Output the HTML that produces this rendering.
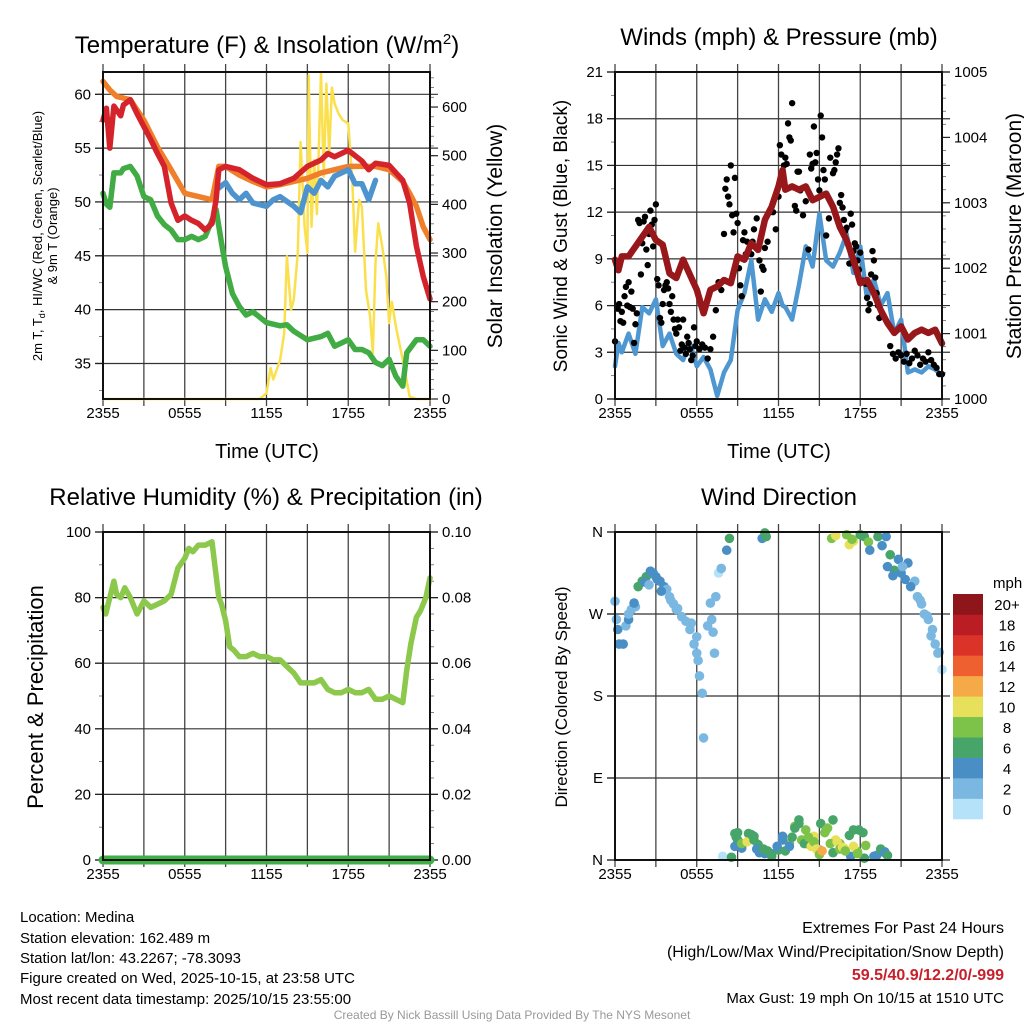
<!DOCTYPE html>
<html><head><meta charset="utf-8"><style>
html,body{margin:0;padding:0;background:#fff;}
svg{display:block;font-family:"Liberation Sans",Arial,sans-serif;}
</style></head><body>
<svg id="s" width="1024" height="1024" viewBox="0 0 1024 1024" xmlns="http://www.w3.org/2000/svg">
<rect width="1024" height="1024" fill="#fff"/>
<g id="g1"></g>
<g id="g2"></g>
<g id="g3"></g>
<g id="g4"></g>
<text x="267" y="53" font-size="24" text-anchor="middle">Temperature (F) &amp; Insolation (W/m<tspan dy="-9" font-size="15">2</tspan><tspan dy="9">)</tspan></text>
<text x="779" y="45" font-size="24" text-anchor="middle">Winds (mph) &amp; Pressure (mb)</text>
<text x="266" y="505" font-size="24" text-anchor="middle">Relative Humidity (%) &amp; Precipitation (in)</text>
<text x="779" y="505" font-size="24" text-anchor="middle">Wind Direction</text>
<text x="267" y="458" font-size="20" text-anchor="middle">Time (UTC)</text>
<text x="779" y="458" font-size="20" text-anchor="middle">Time (UTC)</text>
<text transform="translate(42,236) rotate(-90)" font-size="13" text-anchor="middle">2m T, T<tspan dy="3" font-size="9">d</tspan><tspan dy="-3">, HI/WC (Red, Green, Scarlet/Blue)</tspan></text>
<text transform="translate(57,236) rotate(-90)" font-size="13" text-anchor="middle">&amp; 9m T (Orange)</text>
<text transform="translate(502,236) rotate(-90)" font-size="21" text-anchor="middle">Solar Insolation (Yellow)</text>
<text transform="translate(567,236) rotate(-90)" font-size="19" text-anchor="middle">Sonic Wind &amp; Gust (Blue, Black)</text>
<text transform="translate(1021,236) rotate(-90)" font-size="21" text-anchor="middle">Station Pressure (Maroon)</text>
<text transform="translate(43,697) rotate(-90)" font-size="22" text-anchor="middle">Percent &amp; Precipitation</text>
<text transform="translate(567,697) rotate(-90)" font-size="17" text-anchor="middle">Direction (Colored By Speed)</text>
<g font-size="15">
<text x="20" y="922">Location: Medina</text>
<text x="20" y="943">Station elevation: 162.489 m</text>
<text x="20" y="963">Station lat/lon: 43.2267; -78.3093</text>
<text x="20" y="983">Figure created on Wed, 2025-10-15, at 23:58 UTC</text>
<text x="20" y="1004">Most recent data timestamp: 2025/10/15 23:55:00</text>
</g>
<g font-size="16" text-anchor="end">
<text x="1004" y="933">Extremes For Past 24 Hours</text>
<text x="1004" y="957">(High/Low/Max Wind/Precipitation/Snow Depth)</text>
<text x="1004" y="980" fill="#c8202a" font-weight="bold">59.5/40.9/12.2/0/-999</text>
<text x="1004" y="1003" font-size="15">Max Gust: 19 mph On 10/15 at 1510 UTC</text>
</g>
<text x="512" y="1019" font-size="12" fill="#999" text-anchor="middle">Created By Nick Bassill Using Data Provided By The NYS Mesonet</text>
</svg>
<script>
const xTickHours=[0,6,12,18,24];
const xTickLabels=["2355","0555","1155","1755","2355"];
// Temperature panel
const tHours=[0,0.25,0.5,0.8,1.3,1.5,2,2.5,3,3.5,4,4.5,5,5.5,6,6.5,7,7.5,8,8.3,8.5,9,10,11,12,13,14,15,16,16.5,17,18,19,19.5,20,21,22,22.5,23,23.5,24];
const tempRed=[57.6,58.7,55,58.9,58,59,59.5,58.2,57,55.8,54.5,53.3,49.9,48.3,48.7,48.3,48,47.4,48,50.2,53,53.3,53,52.2,51.6,51.7,52.2,53.3,53.9,54.5,54.2,54.8,53.8,53,53.6,53.4,52,49.9,45.9,43.1,41];
const oHours=[0,0.5,1,2,3,4,5,6,7,8,8.5,9,10,11,12,13,14,15,16,17,18,19,20,21,22,22.5,23,23.5,24];
const temp9m=[61.2,60.4,59.8,59.5,57.6,55.1,53,50.8,50.5,50.2,53.3,53.3,52.5,51.9,51.4,51.6,51.9,52.2,52.7,53,53.3,53.3,53.3,53,51.9,50.8,49.6,47.7,46.5];
const bHours=[8.5,9,9.5,10,10.5,11,12,12.5,13,14,14.5,15,15.5,16,16.5,17,18,18.5,19,19.5,20];
const heatIdx=[51.3,51.8,50.8,50.2,50.8,49.9,49.6,50.2,50.5,49.6,49,51.4,50.8,52,51.4,52.4,53,51.7,51.7,50.2,52];
const gHours=[0,0.25,0.5,0.8,1.3,1.5,2,2.5,3,3.5,4,4.5,5,5.5,6,6.5,7,7.5,8,8.3,8.7,9,9.5,10,10.5,11,12,13,13.5,14,15,16,16.5,17,18,18.5,19,19.5,20,20.5,21,21.5,22,22.3,23,23.5,24];
const dewPt=[50.8,49.8,49.5,52.7,52.7,53.1,53.3,52.4,50.5,50.2,48.7,47.9,47.4,46.5,46.5,46.8,46.5,46.8,48.3,49.3,46.2,44,41.5,40.3,39.5,39.8,38.8,38.5,38.6,38,37.2,37.5,37.8,36.6,37.2,36.3,36.3,36,35.1,34.8,35.4,33.8,32.9,36,37.2,37.2,36.6];
const sHours=[0,11.5,12,12.3,12.5,13,13.3,13.5,13.8,14,14.3,14.5,14.8,15,15.1,15.3,15.5,15.7,16,16.2,16.4,16.6,16.8,17,17.3,17.6,18,18.3,18.5,18.8,19,19.3,19.6,19.8,20,20.2,20.5,20.8,21,21.2,21.5,22,22.5,23,24];
const solar=[0,0,12,64,40,80,135,293,183,204,300,528,354,300,665,354,491,380,672,457,648,504,640,607,586,573,566,450,303,409,395,224,170,94,279,361,313,251,156,200,149,80,5,0,0];
// Wind panel
const wHours=[0,0.25,0.5,1,1.5,2,2.5,3,3.5,4,4.5,5,5.5,6,6.5,7,7.5,8,8.5,9,9.5,10,10.5,11,11.5,12,12.3,12.5,13,13.5,14,14.5,15,15.5,16,16.5,17,17.5,18,18.5,19,19.5,20,20.5,21,21.5,22,22.5,23,23.5,24];
const pressure=[1002.13,1001.97,1002.18,1002.18,1002.33,1002.48,1002.63,1002.43,1002.36,1001.92,1001.85,1002.13,1001.9,1001.67,1001.31,1001.67,1001.72,1001.82,1001.77,1002.18,1002.13,1002.38,1002.28,1002.74,1002.94,1003.25,1003.5,1003.2,1003.25,1003.2,1003.25,1003.04,1003.09,1003.14,1002.94,1002.63,1002.43,1002.13,1001.77,1001.82,1001.62,1001.36,1001.16,1001.01,1001.11,1000.91,1001.01,1001.06,1001.01,1001.06,1000.85];
const sonicWind=[2.1,3.6,3.0,4.2,2.9,5.9,5.5,6.4,3.4,4.2,2.9,2.5,3.6,2.1,2.7,1.9,0.2,1.7,2.5,5.7,6.8,8.9,5.1,6.4,5.6,6.8,6.0,5.9,5.1,7.3,9.8,8.5,11.9,8.9,8.5,9.4,10.6,8.1,9.8,6.4,7.7,6.0,6.8,4.2,5.1,1.7,1.9,1.7,2.1,1.9,1.5];
const gustHours=[0,0.2,0.3,0.4,0.5,0.6,0.7,0.8,0.9,1,1.1,1.2,1.3,1.4,1.5,1.6,1.7,1.8,1.9,2,2.1,2.2,2.3,2.4,2.5,2.6,2.7,2.8,2.9,3,3.1,3.2,3.3,3.4,3.5,3.6,3.7,3.8,3.9,4,4.1,4.2,4.3,4.4,4.5,4.6,4.7,4.8,4.9,5,5.1,5.2,5.3,5.4,5.5,5.6,5.7,5.8,5.9,6,6.2,6.4,6.6,6.8,7,7.2,7.4,7.6,7.8,8,8.1,8.2,8.3,8.4,8.5,8.6,8.7,8.8,8.9,9,9.1,9.2,9.3,9.4,9.5,9.6,9.7,9.8,9.9,10,10.1,10.2,10.4,10.6,10.7,10.8,10.9,11,11.2,11.4,11.6,11.8,12,12.1,12.2,12.3,12.4,12.5,12.6,12.7,12.8,12.9,13,13.1,13.2,13.3,13.4,13.5,13.6,13.8,14,14.2,14.3,14.4,14.5,14.6,14.7,14.8,14.9,15,15.1,15.2,15.3,15.4,15.5,15.7,15.8,16,16.1,16.2,16.3,16.4,16.5,16.6,16.7,16.8,16.9,17,17.2,17.3,17.4,17.5,17.6,17.7,17.8,17.9,18,18.2,18.4,18.5,18.6,18.7,18.8,18.9,19,19.1,19.2,19.3,19.4,19.6,20.2,20.4,20.6,20.8,21,21.2,21.4,21.6,21.8,22,22.2,22.4,22.6,22.8,23,23.2,23.4,23.6,23.8,24];
const gustVals=[3.7,5.8,6.1,5.0,5.6,4.9,6.6,7.2,6.0,7.5,5.9,6.9,5.8,3.6,4.8,5.5,11.5,11.3,8.0,10.0,11.4,11.7,9.6,8.6,10.6,12.1,11.2,9.8,11.5,12.5,7.7,7.3,5.2,4.9,6.1,7.0,7.3,7.5,7.1,6.1,5.6,6.6,5.1,4.5,4.2,5.1,4.6,3.1,3.5,5.1,3.3,2.9,4.0,3.6,3.2,2.5,2.8,4.6,3.4,3.7,3.2,3.5,3.3,2.6,3.2,4.0,5.7,7.5,7.0,10.6,13.5,14.1,13.0,12.5,15.0,11.8,10.7,14.2,11.9,11.3,8.4,7.3,6.6,10.2,10.7,9.3,10.1,9.5,9.8,9.3,10.1,10.9,11.6,8.9,6.9,8.5,8.3,9.7,10.1,12.0,12.0,10.9,13.0,16.3,15.7,14.4,15.0,15.5,15.1,17.7,16.8,16.6,19.0,13.6,12.4,12.1,14.6,14.6,13.4,11.8,12.7,9.6,15.7,14.8,15.1,17.5,15.2,15.8,14.1,13.4,18.2,16.8,14.7,14.1,10.5,11.6,15.5,14.5,14.7,15.2,15.7,16.1,12.6,13.1,12.3,11.5,10.8,11.0,8.7,11.9,11.2,9.5,10.0,9.8,8.9,8.3,9.4,7.6,7.4,6.5,5.7,6.1,8.0,9.5,8.9,7.8,6.8,6.0,5.2,5.4,3.4,2.9,2.6,3.0,2.8,2.4,2.9,2.3,2.6,3.1,2.8,2.2,2.6,2.4,3.0,2.5,2.2,2.0,1.6,1.6];
// Humidity panel
const rhHours=[0,0.2,0.5,0.8,1,1.3,1.6,2,2.5,3,3.5,4,4.5,5,5.5,6,6.3,6.6,7,7.5,8,8.5,8.7,9,9.3,9.6,10,10.5,11,11.5,12,12.5,13,13.5,14,14.5,15,15.5,16,16.5,17,17.5,18,18.5,19,19.5,20,20.5,21,21.5,22,22.3,22.6,23,23.3,23.7,24];
const relHum=[77,75,80,85,81,80,83,80,75,79,77,78,79,81,89,92,95,94,96,96,97,80,78,73,65,64,62,62,63,62,62,61,61,59,57,54,54,54,55,52,51,51,52,51,51,52,49,49,50,49,48,58,66,74,76,80,86];
const precipHours=[0,24];
const precip=[0,0];
// Wind direction panel
const dirHours=[0,0.1,0.2,0.3,0.6,0.8,1,1.2,1.5,1.7,2,2.3,2.6,2.8,3,3.3,3.6,3.8,4,4.3,4.6,4.9,5.5,5.8,6,6.1,6.2,6.4,6.5,6.8,7.1,7.3,7.4,7.6,7.8,8.2,8.4,10.8,11,11.1,15.9,17,17.2,17.5,18.3,18.6,18.7,19.3,19.9,20.2,20.5,20.8,21,21.3,21.5,22,22.2,22.5,22.7,23,23.3,23.5,23.7,24,8.5,8.8,9,9.3,9.8,10.2,10.5,11,11.5,12,12.3,12.8,13.2,13.5,14,14.2,14.6,15,15.1,15.5,16,16.2,16.5,16.8,17.3,17.5,17.8,18.3,19,19.8,
 7.9,8.55,8.9,9.0,8.8,9.3,9.7,10.0,10.2,10.4,10.6,10.9,11.2,11.5,11.9,12.3,12.5,12.8,13.0,13.2,13.5,13.7,13.9,14.2,14.4,14.6,14.8,15.0,15.2,15.4,15.6,15.8,16.0,16.3,16.5,16.7,16.9,17.2,17.5,17.8,17.9,18.2,18.4,19.2,19.5,19.8,20.0,
 1.0,1.4,2.2,2.5,3.1,3.4,4.1,4.5,5.2,5.6,6.0,7.0,7.2,16.2,17.4,18.0,19.6,20.0,20.4,21.1,21.7,22.4,22.9,23.2,23.8];
const dirDeg=[284,264,253,237,237,257,264,275,278,300,306,311,317,315,311,306,300,297,289,281,276,267,253,237,227,219,202,183,134,257,264,227,289,315,320,340,353,353,359,355,353,357,346,350,355,349,340,355,355,335,318,330,315,308,326,306,289,281,270,264,253,237,227,209,3,29,22,13,29,26,17,7,7,11,26,18,37,44,33,17,26,11,40,33,44,22,18,13,4,33,9,2,4,9,
 4,3,25,30,15,18,20,28,22,12,8,12,10,4,15,22,10,15,25,35,40,22,18,25,15,20,12,6,10,30,35,18,8,20,12,14,10,27,15,7,33,30,16,5,12,8,5,
 270,282,305,302,308,295,285,275,262,260,245,282,250,356,352,357,345,322,312,322,300,285,268,246,228];
const dirSpeed=[2,3,4,4,4,3,4,3,3,6,6,7,5,4,4,4,4,3,3,3,3,3,3,3,3,2,2,3,3,2,3,3,2,1,3,4,6,4,6,7,8,9,10,10,7,8,4,7,4,6,6,4,4,4,5,3,2,3,2,2,3,3,2,1,1,7,6,4,7,7,6,4,5,6,5,8,8,7,9,10,11,4,7,9,7,10,9,11,5,7,9,6,5,4,
 1,6,6,6,4,8,10,6,6,4,4,6,6,6,4,4,6,4,6,6,6,8,6,8,10,8,10,8,12,8,8,8,6,10,8,10,8,6,10,8,6,6,8,4,6,4,6,
 3,4,5,3,4,5,3,3,3,3,2,3,3,10,8,7,4,5,4,3,4,3,2,3,3];
const binLabels=["0","2","4","6","8","10","12","14","16","18","20+"];
const binColors=["#b5e2f8","#7ab8e2","#4a8ec6","#47a56a","#7dc34a","#e6e05a","#f6a947","#ef6030","#dc3328","#bb1d25","#8e1519"];

const NS="http://www.w3.org/2000/svg";
function mk(p,tag,attrs){const e=document.createElementNS(NS,tag);for(const k in attrs)e.setAttribute(k,attrs[k]);p.appendChild(e);return e;}
function scale(d0,d1,r0,r1){return v=>r0+(v-d0)/(d1-d0)*(r1-r0);}
function panel(g,L,R,T,B,xs,ly,lTicks,lMinor,lFmt,ry,rTicks,rMinor,rFmt,gridYs){
  for(let h=0;h<=24;h+=3){const x=xs(h);const l=mk(g,'line',{x1:x,x2:x,y1:T-8,y2:B,stroke:'#444','stroke-width':1.3});
    
    
    mk(g,'line',{x1:x,x2:x,y1:B,y2:B+7,stroke:'#444','stroke-width':1.3});}
  gridYs.forEach(y=>{const l=mk(g,'line',{x1:L-8,x2:R+8,y1:y,y2:y,stroke:'#333','stroke-width':1.2});
    
    });
  lMinor.forEach(v=>mk(g,'line',{x1:L-4,x2:L,y1:ly(v),y2:ly(v),stroke:'#666','stroke-width':0.8}));
  rMinor.forEach(v=>mk(g,'line',{x1:R,x2:R+4,y1:ry(v),y2:ry(v),stroke:'#666','stroke-width':0.8}));
  lTicks.forEach(v=>{mk(g,'line',{x1:L-8,x2:L,y1:ly(v),y2:ly(v),stroke:'#222','stroke-width':1.2});
    const t=mk(g,'text',{x:L-12,y:ly(v)+5,'font-size':15,'text-anchor':'end'});t.textContent=lFmt(v);
    
    });
  rTicks.forEach(v=>{mk(g,'line',{x1:R,x2:R+8,y1:ry(v),y2:ry(v),stroke:'#222','stroke-width':1.2});
    const t=mk(g,'text',{x:R+12,y:ry(v)+5,'font-size':15});t.textContent=rFmt(v);
    
    });
  xTickHours.forEach((h,i)=>{const t=mk(g,'text',{x:xs(h),y:B+19,'font-size':15,'text-anchor':'middle'});t.textContent=xTickLabels[i];
    
    });
}
function frame(g,L,R,T,B){const f=mk(g,'rect',{x:L,y:T,width:R-L,height:B-T,fill:'none',stroke:'#111','stroke-width':2});
  
  }
function line(g,xs,ys,hs,vs,color,w,name){
  let d='';let pen=false;
  hs.forEach((h,i)=>{const v=vs[i];if(v===null){pen=false;return;}d+=(pen?'L':'M')+xs(h).toFixed(1)+','+ys(v).toFixed(1);pen=true;});
  const p=mk(g,'path',{d:d,fill:'none',stroke:color,'stroke-width':w,'stroke-linejoin':'round','stroke-linecap':'round'});
  
  
  return p;}
function range(a,b,s){const r=[];for(let v=a;v<=b+1e-9;v+=s)r.push(+v.toFixed(4));return r;}

{const g=document.getElementById('g1');const L=103,R=430,T=72,B=399;
 const xs=scale(0,24,L,R),ly=scale(31.7,62.07,B,T),ry=scale(0,672,B,T);
 const lt=[35,40,45,50,55,60];
 panel(g,L,R,T,B,xs,ly,lt,range(32.5,62,2.5),v=>v,ry,[0,100,200,300,400,500,600],range(0,660,20),v=>v,lt.map(ly));
 line(g,xs,ry,sHours,solar,'#fbe04d',2.5,'solar-insolation-line');
 line(g,xs,ly,gHours,dewPt,'#42ac44',5.5,'dewpoint-line');
 line(g,xs,ly,oHours,temp9m,'#f07f2c',5.5,'temp-9m-line');
 line(g,xs,ly,bHours,heatIdx,'#4d94cf',5.5,'heat-index-wind-chill-line');
 line(g,xs,ly,tHours,tempRed,'#d4232a',5.5,'temp-2m-line');
 frame(g,L,R,T,B);}
{const g=document.getElementById('g2');const L=615,R=942,T=72,B=399;
 const xs=scale(0,24,L,R),ly=scale(0,21,B,T),ry=scale(1000,1005,B,T);
 const lt=[0,3,6,9,12,15,18,21];
 panel(g,L,R,T,B,xs,ly,lt,range(1.5,19.5,3),v=>v,ry,[1000,1001,1002,1003,1004,1005],range(1000,1005,0.2),v=>v,lt.map(ly));
 line(g,xs,ly,wHours,sonicWind,'#4e97d1',4.5,'sonic-wind-line');
 gustHours.forEach((h,i)=>{const c=mk(g,'circle',{cx:xs(h),cy:ly(gustVals[i]),r:3.2,fill:'#000'});
   
   });
 line(g,xs,ry,wHours,pressure,'#98171b',6.5,'pressure-line');
 frame(g,L,R,T,B);}
{const g=document.getElementById('g3');const L=103,R=430,T=532,B=860;
 const xs=scale(0,24,L,R),ly=scale(0,100,B,T),ry=scale(0,0.1,B,T);
 const lt=[0,20,40,60,80,100];
 panel(g,L,R,T,B,xs,ly,lt,range(10,90,20),v=>v,ry,[0,0.02,0.04,0.06,0.08,0.1],range(0.005,0.095,0.005),v=>v.toFixed(2),lt.map(ly));
 line(g,xs,ly,rhHours,relHum,'#8cc84b',5.5,'relative-humidity-line');
 line(g,xs,ry,precipHours,precip,'#3faf46',9,'precipitation-line');
 frame(g,L,R,T,B);}
{const g=document.getElementById('g4');const L=615,R=942,T=532,B=860;
 const xs=scale(0,24,L,R),ly=scale(0,360,B,T);
 const lt=[0,90,180,270,360];const names={0:'N',90:'E',180:'S',270:'W',360:'N'};
 panel(g,L,R,T,B,xs,ly,lt,[],v=>names[v],ly,[],[],v=>v,lt.map(ly));
 dirHours.forEach((h,i)=>{const bi=Math.min(10,Math.floor(dirSpeed[i]/2));
   const c=mk(g,'circle',{cx:xs(h),cy:ly(dirDeg[i]),r:4.8,fill:binColors[bi]});
   
   });
 frame(g,L,R,T,B);
 const lg=mk(g,'g',{});
 
 
 const lt2=mk(lg,'text',{x:993,y:588,'font-size':15});lt2.textContent='mph';
 const bh=(819-594)/11;
 binColors.forEach((c,i)=>{const y=819-(i+1)*bh;
   const r=mk(lg,'rect',{x:953,y:y,width:30,height:bh+0.3,fill:c});
   
   
   const t=mk(lg,'text',{x:1007,y:y+bh/2+6,'font-size':15,'text-anchor':'middle'});t.textContent=binLabels[i];
   
   });}
</script>
</body></html>
